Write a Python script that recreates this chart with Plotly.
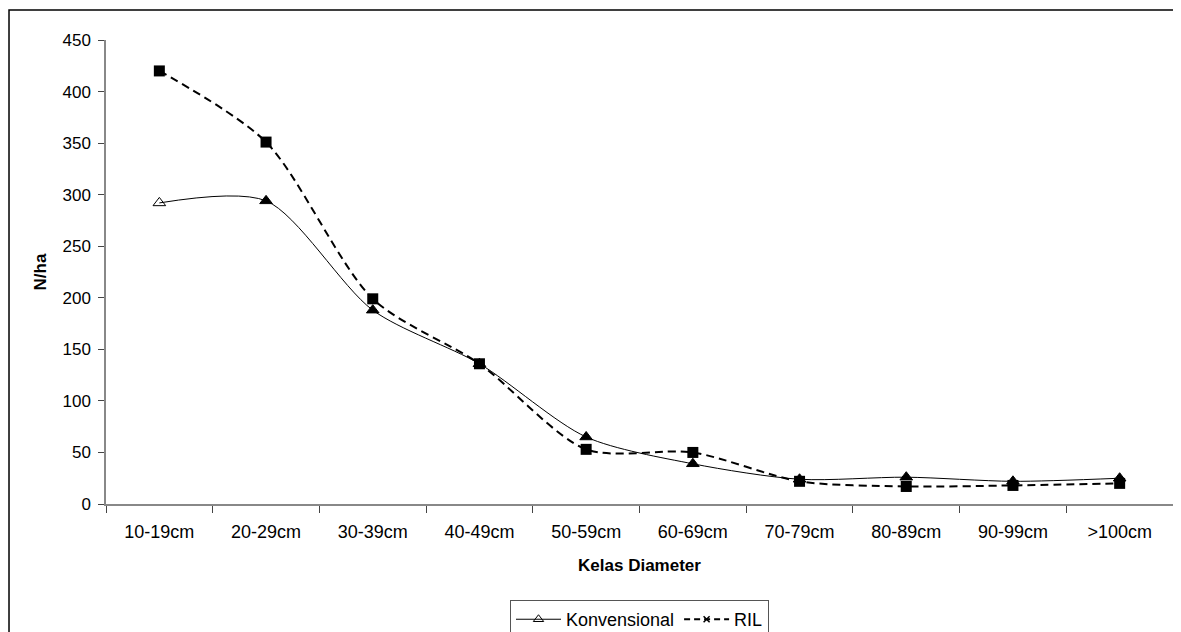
import plotly.graph_objects as go

categories = ["10-19cm", "20-29cm", "30-39cm", "40-49cm", "50-59cm",
              "60-69cm", "70-79cm", "80-89cm", "90-99cm", ">100cm"]
konvensional = [292, 294, 188, 136, 65, 39, 24, 26, 22, 25]
ril = [420, 351, 199, 136, 53, 50, 22, 17, 18, 20]
y_ticks = [0, 50, 100, 150, 200, 250, 300, 350, 400, 450]

FONT = "Liberation Sans, Arial, sans-serif"

fig = go.Figure()
k_symbols = ["triangle-up-open"] + ["triangle-up"] * (len(konvensional) - 1)
fig.add_trace(go.Scatter(
    x=categories, y=konvensional, mode="lines+markers", name="Konvensional",
    line=dict(color="black", width=1, shape="spline", smoothing=0.8),
    marker=dict(symbol=k_symbols, size=11, color="black", line=dict(color="black", width=1)),
    showlegend=False))
fig.add_trace(go.Scatter(
    x=categories, y=ril, mode="lines+markers", name="RIL",
    line=dict(color="black", width=2, dash="8px,5px", shape="spline", smoothing=0.8),
    marker=dict(symbol="square", size=11, color="black"),
    showlegend=False))
# legend entries
fig.add_trace(go.Scatter(
    x=[None], y=[None], mode="lines+markers", name="Konvensional",
    line=dict(color="black", width=1),
    marker=dict(symbol="triangle-up-open", size=9, color="black")))
fig.add_trace(go.Scatter(
    x=[None], y=[None], mode="lines+markers", name="RIL",
    line=dict(color="black", width=2, dash="6px,4px"),
    marker=dict(symbol="x-thin", size=6, color="black", line=dict(color="black", width=1.5))))

fig.update_layout(
    width=1181, height=632,
    paper_bgcolor="white", plot_bgcolor="white",
    margin=dict(l=98, r=16, t=32, b=136, autoexpand=False),
    font=dict(family=FONT, size=17, color="black"),
    legend=dict(orientation="h", x=0.5, xanchor="center", y=-0.207, yanchor="top",
                bordercolor="#555", borderwidth=1, font=dict(size=18, family=FONT),
                itemwidth=45, tracegroupgap=0),
    shapes=[dict(type="rect", xref="paper", yref="paper",
                 x0=-0.0909, x1=1.03, y0=-0.33, y1=1.0647,
                 line=dict(color="black", width=1.5))],
)
fig.update_xaxes(
    type="category", range=[-0.5, 9.5], showline=True, linecolor="#888", linewidth=1.5,
    ticks="outside", tickson="boundaries", ticklen=7, tickcolor="#444",
    showgrid=False, tickfont=dict(size=18), automargin=False, ticklabelstandoff=11,
    title=dict(text="<b>Kelas Diameter</b>", font=dict(size=17), standoff=18))
fig.update_yaxes(
    range=[0, 450], tickvals=y_ticks, showline=True, linecolor="#888", linewidth=1.5,
    ticks="outside", ticklen=6, tickcolor="#444", showgrid=False, zeroline=False,
    tickfont=dict(size=17), automargin=False, ticklabelstandoff=4,
    title=dict(text="<b>N/ha</b>", font=dict(size=17), standoff=12))

fig.write_html("out.html")
